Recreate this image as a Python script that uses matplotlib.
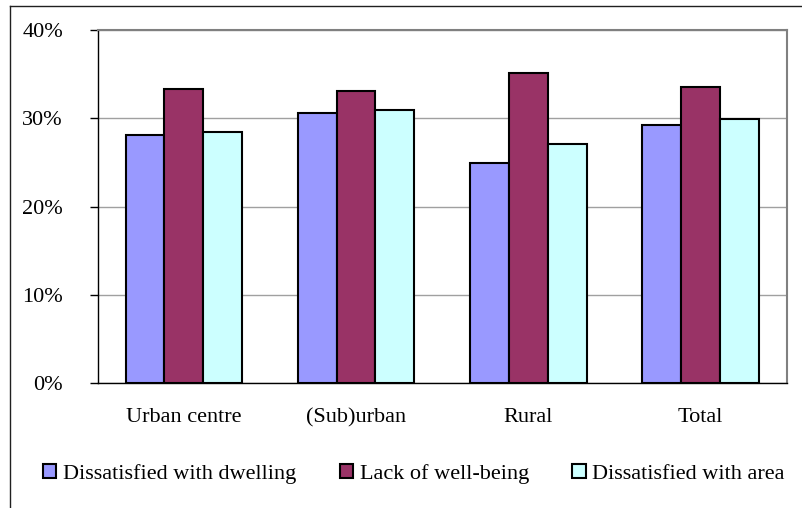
import numpy as np
import matplotlib
matplotlib.use("Agg")
from matplotlib import pyplot as plt
from matplotlib.lines import Line2D
from matplotlib.ticker import PercentFormatter

# data (percent)
categories = ["Urban centre", "(Sub)urban", "Rural", "Total"]
dwelling = [28.1, 30.6, 24.9, 29.2]
wellbeing = [33.3, 33.1, 35.1, 33.5]
area = [28.5, 30.9, 27.1, 29.9]
series_names = ["Dissatisfied with dwelling", "Lack of well-being", "Dissatisfied with area"]
colors = ["#9999FF", "#993366", "#CCFFFF"]

plt.rcParams['font.family'] = ['Liberation Serif', 'DejaVu Serif']

fig = plt.figure(figsize=(8.03, 5.08), dpi=100)
ax = fig.add_axes([97.7/803, 1-383.3/508, (786.7-97.7)/803, (383.3-30)/508])

x = np.arange(len(categories))
w = 0.2253
for i, (vals, name, col) in enumerate(zip([dwelling, wellbeing, area], series_names, colors)):
    ax.bar(x + (i-1)*w, vals, w, color=col, edgecolor="black", linewidth=1.5,
           label=name, zorder=3)

ax.set_xlim(-0.5, len(categories)-0.5)
ax.set_ylim(0, 40)
ax.set_yticks([0, 10, 20, 30, 40])
ax.yaxis.set_major_formatter(PercentFormatter(decimals=0))
ax.yaxis.grid(True, color="#A0A0A0", linewidth=1, zorder=0)
ax.set_axisbelow(True)
ax.set_xticks(x)
ax.set_xticklabels(categories)
ax.tick_params(axis="x", length=0, pad=18, labelsize=16)
ax.tick_params(axis="y", length=6, width=1, direction="out", pad=19, labelsize=16)

for s in ["top", "right"]:
    ax.spines[s].set_color("#808080")
    ax.spines[s].set_linewidth(1.5)
for s in ["left", "bottom"]:
    ax.spines[s].set_color("black")
    ax.spines[s].set_linewidth(1)

leg = fig.legend(loc="center left", bbox_to_anchor=(43/803, 1-474/508), ncol=3,
                 frameon=False, fontsize=16, handlelength=0.6, handleheight=0.6,
                 handletextpad=0.3, columnspacing=1.95, borderpad=0, borderaxespad=0)
for h in leg.legend_handles:
    h.set_linewidth(1.5)

# outer chart frame (cropped on right and bottom)
fig.add_artist(Line2D([10.5/803, 10.5/803], [0, 1-6/508], color="#202020", linewidth=1))
fig.add_artist(Line2D([10.5/803, 1], [1-6/508, 1-6/508], color="#202020", linewidth=1))

fig.savefig("out.png", dpi=100)
